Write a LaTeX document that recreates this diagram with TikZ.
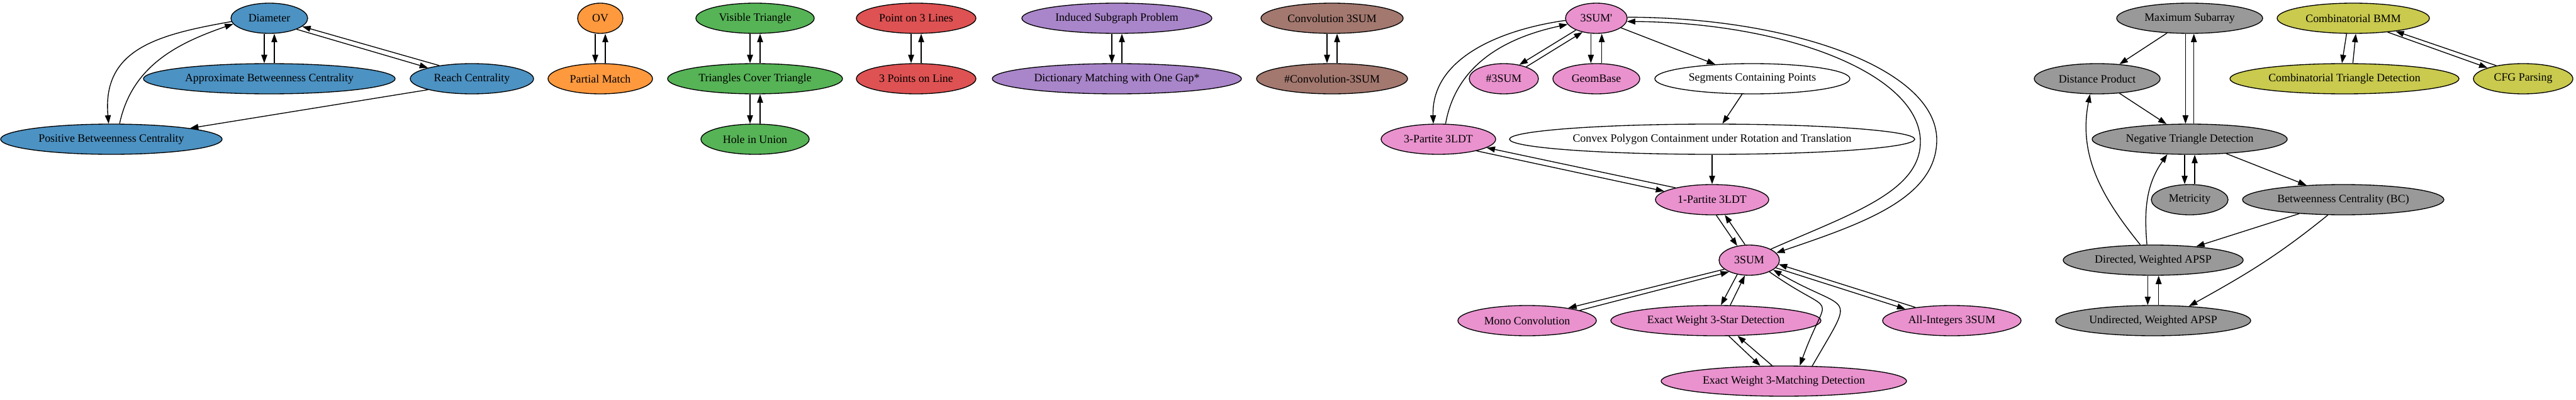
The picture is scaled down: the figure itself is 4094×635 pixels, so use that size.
\documentclass[tikz,border=0pt]{standalone}
\usepackage{fontspec}
\setmainfont{Liberation Serif}
\usepackage{xcolor}
\usetikzlibrary{shapes.geometric,positioning,arrows.meta}

\definecolor{cblue}{HTML}{4C92C3}
\definecolor{corange}{HTML}{FF993E}
\definecolor{cgreen}{HTML}{56B356}
\definecolor{cred}{HTML}{DE5253}
\definecolor{cpurple}{HTML}{A985CA}
\definecolor{cbrown}{HTML}{A3786F}
\definecolor{cpink}{HTML}{E992CE}
\definecolor{cgray}{HTML}{999999}
\definecolor{colive}{HTML}{C9CA4E}

\begin{document}
\begin{tikzpicture}[x=0.75pt, y=-0.75pt, node distance=72pt, on grid, line width=1pt,
    >={Triangle[length=10pt,width=7pt]},
    prob/.style={ellipse, draw, minimum width=#1, minimum height=36pt,
      inner xsep=0pt, inner ysep=0pt, font=\fontsize{13.4pt}{16pt}\selectfont},
    prob/.default=54pt]

    \useasboundingbox (0,0) rectangle (4094,635);

    \node[prob=91.5pt, fill=cblue] (dia) at (428,29) {Diameter};
    \node[prob=300pt, fill=cblue] (abc) [below=of dia] {Approximate Betweenness Centrality};
    \node[prob=147pt, fill=cblue] (rch) at (750,125) {Reach Centrality};
    \node[prob=264pt, fill=cblue] (pbc) at (177,221) {Positive Betweenness Centrality};

    \node[prob=54pt, fill=corange] (ov) at (954,29) {OV};
    \node[prob=124.5pt, fill=corange] (pm) [below=of ov] {Partial Match};

    \node[prob=141pt, fill=cgreen] (vt) at (1200,29) {Visible Triangle};
    \node[prob=208.5pt, fill=cgreen] (tct) [below=of vt] {Triangles Cover Triangle};
    \node[prob=129pt, fill=cgreen] (hiu) [below=of tct] {Hole in Union};

    \node[prob=142.5pt, fill=cred] (p3l) at (1456,29) {Point on 3 Lines};
    \node[prob=142.5pt, fill=cred] (tpl) [below=of p3l] {3 Points on Line};

    \node[prob=226.5pt, fill=cpurple] (isp) at (1775,29) {Induced Subgraph Problem};
    \node[prob=297pt, fill=cpurple] (dmg) [below=of isp] {Dictionary Matching with One Gap*};

    \node[prob=169.5pt, fill=cbrown] (c3s) at (2117,29) {Convolution 3SUM};
    \node[prob=180pt, fill=cbrown] (nc3s) [below=of c3s] {\#Convolution-3SUM};

    \node[prob=73.5pt, fill=cpink] (tsp) at (2537,29) {3SUM\textquotesingle};
    \node[prob=82.5pt, fill=cpink] (n3s) at (2390,125) {\#3SUM};
    \node[prob=103.5pt, fill=cpink] (gb) [below=of tsp] {GeomBase};
    \node[prob=232.5pt] (scp) at (2785,125) {Segments Containing Points};
    \node[prob=136.5pt, fill=cpink] (tpt) at (2286,221) {3-Partite 3LDT};
    \node[prob=483pt] (cpc) at (2721,221) {Convex Polygon Containment under Rotation and Translation};
    \node[prob=135pt, fill=cpink] (opt) [below=of cpc] {1-Partite 3LDT};
    \node[prob=72pt, fill=cpink] (ts) at (2780,413) {3SUM};
    \node[prob=165pt, fill=cpink] (mc) at (2427,509) {Mono Convolution};
    \node[prob=250.5pt, fill=cpink] (ews) at (2727,509) {Exact Weight 3-Star Detection};
    \node[prob=165pt, fill=cpink] (ai) at (3102,509) {All-Integers 3SUM};
    \node[prob=292.5pt, fill=cpink] (ewm) at (2835,605) {Exact Weight 3-Matching Detection};

    \node[prob=174pt, fill=cgray] (ms) at (3480,29) {Maximum Subarray};
    \node[prob=150pt, fill=cgray] (dp) at (3333,125) {Distance Product};
    \node[prob=232.5pt, fill=cgray] (ntd) at (3480,221) {Negative Triangle Detection};
    \node[prob=91.5pt, fill=cgray] (met) [below=of ntd] {Metricity};
    \node[prob=240pt, fill=cgray] (bc) at (3724,317) {Betweenness Centrality (BC)};
    \node[prob=214.5pt, fill=cgray] (dwa) at (3422,413) {Directed, Weighted APSP};
    \node[prob=232.5pt, fill=cgray] (uwa) [below=of dwa] {Undirected, Weighted APSP};

    \node[prob=181.5pt, fill=colive] (cbmm) at (3740,29) {Combinatorial BMM};
    \node[prob=273pt, fill=colive] (ctd) at (3726,125) {Combinatorial Triangle Detection};
    \node[prob=118.5pt, fill=colive] (cfg) at (4010,125) {CFG Parsing};

    \path[->]
        ([xshift=-6pt]dia.south) edge ([xshift=-6pt]abc.north)
        ([xshift=6pt]abc.north) edge ([xshift=6pt]dia.south)
        (dia.-22) edge (rch.166)
        (rch.158) edge (dia.-14)
        (dia.185) edge[out=190, in=95, looseness=1.2] (pbc.100)
        (pbc.62) edge[out=78, in=199] (dia.189)
        (rch.south west) edge (pbc.north east)

        ([xshift=-6pt]ov.south) edge ([xshift=-6pt]pm.north)
        ([xshift=6pt]pm.north) edge ([xshift=6pt]ov.south)
        ([xshift=-6pt]vt.south) edge ([xshift=-6pt]tct.north)
        ([xshift=6pt]tct.north) edge ([xshift=6pt]vt.south)
        ([xshift=-6pt]tct.south) edge ([xshift=-6pt]hiu.north)
        ([xshift=6pt]hiu.north) edge ([xshift=6pt]tct.south)
        ([xshift=-6pt]p3l.south) edge ([xshift=-6pt]tpl.north)
        ([xshift=6pt]tpl.north) edge ([xshift=6pt]p3l.south)
        ([xshift=-6pt]isp.south) edge ([xshift=-6pt]dmg.north)
        ([xshift=6pt]dmg.north) edge ([xshift=6pt]isp.south)
        ([xshift=-6pt]c3s.south) edge ([xshift=-6pt]nc3s.north)
        ([xshift=6pt]nc3s.north) edge ([xshift=6pt]c3s.south)

        (tsp.184) edge[out=188, in=92] (tpt.108)
        (tpt.65) edge[out=80, in=192] (tsp.192)
        (tsp.210) edge (n3s.42)
        (n3s.28) edge (tsp.225)
        ([xshift=-6.5pt]tsp.south) edge ([xshift=-6.5pt]gb.north)
        ([xshift=6.5pt]gb.north) edge ([xshift=6.5pt]tsp.south)
        (tsp) edge (scp)
        (scp) edge (cpc)
        (cpc) edge (opt)
        (tpt.-17) edge (opt.170)
        (opt.162) edge (tpt.-10)
        (opt.-75) edge (ts.130)
        (ts.105) edge (opt.-50)
        (ts.200) edge (mc.17)
        (mc.11) edge (ts.210)
        (ts.230) edge (ews.72)
        (ews.47) edge (ts.254)
        (ts.-16) edge (ai.166)
        (ai.160) edge (ts.-8)
        (ts.-30) edge[out=-35, in=70, looseness=2.2] (ewm.44)
        (ewm.28) edge[out=60, in=-30, looseness=2.2] (ts.-22)
        (ews.-50) edge (ewm.147)
        (ewm.127) edge (ews.-35)

        (ms) edge (dp)
        ([xshift=-5pt]ms.south) edge ([xshift=-5pt]ntd.north)
        ([xshift=5pt]ntd.north) edge ([xshift=5pt]ms.south)
        (dp) edge (ntd)
        ([xshift=-6pt]ntd.south) edge ([xshift=-6pt]met.north)
        ([xshift=6pt]met.north) edge ([xshift=6pt]ntd.south)
        (ntd) edge (bc)
        (dwa.130) edge[out=129, in=-101] (dp.-115)
        (dwa.112) edge[out=95, in=-125] (ntd.214)
        (bc) edge (dwa)
        (bc.225) edge[out=219, in=29] (uwa.22)
        ([xshift=-6.5pt]dwa.south) edge ([xshift=-6.5pt]uwa.north)
        ([xshift=6.5pt]uwa.north) edge ([xshift=6.5pt]dwa.south)

        ([xshift=-8pt]cbmm.south) edge ([xshift=-3pt]ctd.north)
        ([xshift=10pt]ctd.north) edge ([xshift=3pt]cbmm.south)
        (cbmm.-22) edge (cfg.163)
        (cfg.154) edge (cbmm.-17);

    \draw[->] (tsp.2) .. controls (2850,28) and (3078,110) .. (3078,222)
        .. controls (3078,315) and (2960,355) .. (ts.15);
    \draw[->] (ts.27) .. controls (2940,340) and (3052,305) .. (3052,225)
        .. controls (3052,118) and (2840,36) .. (tsp.-6);

\end{tikzpicture}
\end{document}
